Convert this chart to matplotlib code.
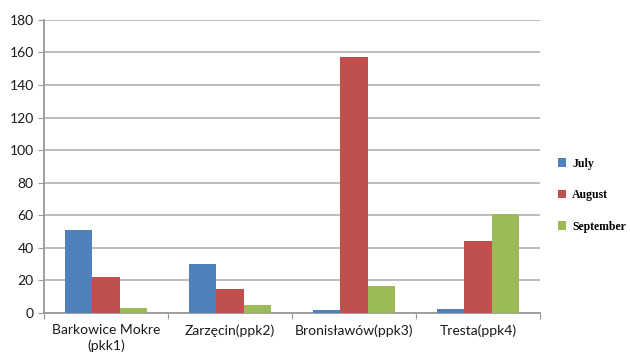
import numpy as np
import matplotlib.pyplot as plt

# Sampling sites and monthly values
sites = ['Barkowice Mokre\n(pkk1)', 'Zarzęcin(ppk2)', 'Bronisławów(ppk3)', 'Tresta(ppk4)']
july = [51, 30, 2, 2.5]
august = [22, 15, 157, 44]
september = [3, 5, 16.5, 61]

months = ['July', 'August', 'September']
colors = ['#4F81BD', '#C0504D', '#9BBB59']

fig = plt.figure(figsize=(6.3, 3.61), dpi=100)
ax = fig.add_axes([0.07, 0.133, 0.787, 0.812])

x = np.arange(len(sites))
w = 0.22
for i, (vals, lab, c) in enumerate(zip([july, august, september], months, colors)):
    ax.bar(x + (i - 1) * w, vals, w, color=c, label=lab, zorder=3)

ax.set_xlim(-0.5, len(sites) - 0.5)
ax.set_ylim(0, 180)
ax.set_yticks(range(0, 181, 20))
ax.yaxis.grid(True, color='#b8b8b8', linewidth=1.3, zorder=0)

# category separators on the x axis
ax.set_xticks(np.arange(-0.5, len(sites), 1))
ax.set_xticklabels([])
ax.set_xticks(x, minor=True)
ax.set_xticklabels(sites, minor=True, family='Lato', fontsize=10, color='#1a1a1a',
                   linespacing=1.35)
ax.tick_params(axis='x', which='major', length=4, color='#999999')
ax.tick_params(axis='x', which='minor', length=0, pad=8)
ax.tick_params(axis='y', length=4, color='#999999', labelsize=10, labelcolor='#1a1a1a')
for t in ax.get_yticklabels():
    t.set_family('Lato')

for s in ['top', 'right']:
    ax.spines[s].set_visible(False)
for s in ['left', 'bottom']:
    ax.spines[s].set_color('#999999')
    ax.spines[s].set_linewidth(1.3)

leg = fig.legend(loc='upper left', bbox_to_anchor=(0.886, 0.563), frameon=False,
                 borderpad=0, borderaxespad=0,
                 handlelength=0.7, handleheight=0.7, handletextpad=0.5, labelspacing=1.65,
                 prop={'family': 'Liberation Serif', 'weight': 'bold', 'size': 8.5})

plt.savefig('out.png', dpi=100)
